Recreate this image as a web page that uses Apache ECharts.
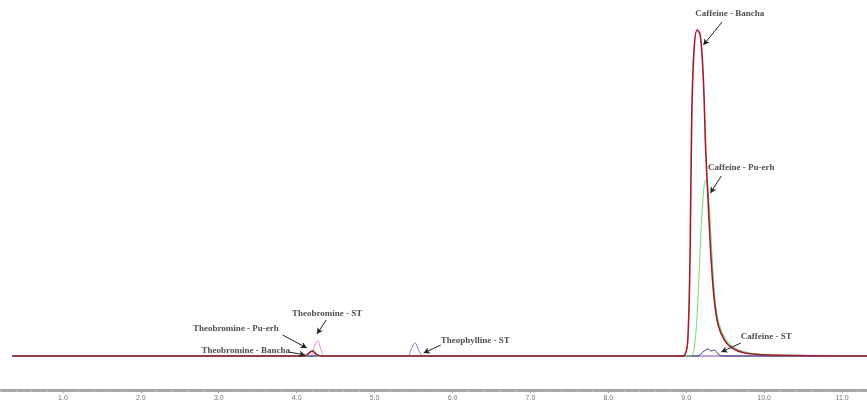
<!DOCTYPE html>
<html>
<head>
<meta charset="utf-8">
<script src="https://cdn.jsdelivr.net/npm/echarts@6/dist/echarts.min.js"></script>
<style>
  html, body { margin: 0; padding: 0; background: #fff; }
  #chart { width: 867px; height: 406px; }
</style>
</head>
<body>
<div id="chart"></div>
<script>
// retention time (min) / detector response
const banchaRt = [0.35, 4.10, 4.16, 4.20, 4.25, 4.32, 8.92, 8.98, 9.02, 9.05, 9.07, 9.10, 9.14, 9.18, 9.22, 9.25, 9.28, 9.32, 9.36, 9.41, 9.49, 9.59, 9.75, 10.08, 11.32]
const banchaY = [0, 0, 3, 5, 2, 0, 0, 1, 16, 106, 236, 306, 326, 321, 276, 206, 156, 96, 56, 31, 16, 8, 3, 1, 0]

const puerhRt = [0.35, 4.12, 4.18, 4.22, 4.28, 9.05, 9.10, 9.15, 9.19, 9.23, 9.25, 9.29, 9.32, 9.36, 9.41, 9.50, 9.63, 9.82, 10.14, 11.32]
const puerhY = [0, 0, 4, 6, 0, 0, 6, 56, 126, 171, 176, 156, 116, 66, 36, 18, 8, 3, 1, 0]

const stTheobromineRt = [0.35, 4.17, 4.22, 4.27, 4.31, 4.36, 11.32]
const stTheobromineY = [0, 0, 9, 15, 7, 0, 0]

const stTheophyllineRt = [0.35, 5.42, 5.47, 5.52, 5.57, 5.63, 11.32]
const stTheophyllineY = [0, 0, 7, 13, 5, 0, 0]

const stCaffeineRt = [0.35, 9.14, 9.23, 9.28, 9.32, 9.36, 9.41, 9.46, 11.32]
const stCaffeineY = [0, 0, 5, 7, 5, 6, 2, 0, 0]

const tickValues = [1, 2, 3, 4, 5, 6, 7, 8, 9, 10, 11]
const tickLabels = ['1.0', '2.0', '3.0', '4.0', '5.0', '6.0', '7.0', '8.0', '9.0', '10.0', '11.0']

// peak annotations: text, text anchor, arrow start, arrow tip (data units)
const annText = ['Caffeine - Bancha', 'Caffeine - Pu-erh', 'Caffeine - ST', 'Theobromine - ST', 'Theobromine - Pu-erh', 'Theobromine - Bancha', 'Theophylline - ST']
const annAt = [[9.56, 342], [9.28, 188], [9.70, 19], [3.94, 42], [2.67, 27], [2.78, 5], [5.85, 15]]
const annAlign = ['center', 'left', 'left', 'left', 'left', 'left', 'left']
const arrowFrom = [[9.46, 334], [9.45, 180], [9.70, 13], [4.38, 36], [3.82, 21], [3.90, 4], [5.85, 11]]
const arrowTo = [[9.22, 311], [9.31, 163], [9.45, 4], [4.26, 22], [4.13, 8], [4.11, 1], [5.63, 3]]

const zip = (xs, ys) => xs.map((x, i) => [x, ys[i]])

const trace = (name, xs, ys, color, width, z) => ({
  name,
  type: 'line',
  data: zip(xs, ys),
  smooth: 0.35,
  showSymbol: false,
  z,
  lineStyle: { color, width },
  itemStyle: { color }
})

const chart = echarts.init(document.getElementById('chart'))

chart.setOption({
  animation: false,
  backgroundColor: '#fff',
  grid: { left: -15, right: 0, top: 0, bottom: 16, outerBoundsMode: 'none', containLabel: false },
  xAxis: {
    type: 'value',
    min: 0,
    max: 11.32,
    interval: 1,
    splitLine: { show: false },
    axisLine: { onZero: false, lineStyle: { color: '#a8a8a8', width: 3 } },
    axisTick: { length: 3, lineStyle: { color: '#999' } },
    minorTick: { show: true, splitNumber: 5, length: 2, lineStyle: { color: '#bbb' } },
    axisLabel: {
      color: '#777',
      fontSize: 7,
      margin: 5,
      fontFamily: 'Liberation Sans',
      showMaxLabel: false,
      formatter: v => {
        const i = tickValues.indexOf(v)
        return i >= 0 ? tickLabels[i] : ''
      }
    }
  },
  yAxis: { type: 'value', min: -34, max: 356, show: false },
  series: [
    trace('ST', stTheobromineRt, stTheobromineY, '#e68ad8', 1, 2),
    trace('ST theophylline', stTheophyllineRt, stTheophyllineY, '#8080d8', 1, 2),
    trace('ST caffeine', stCaffeineRt, stCaffeineY, '#3a3a6a', 1, 3),
    trace('Pu-erh', puerhRt, puerhY, '#74dc74', 1, 3),
    Object.assign(trace('Bancha', banchaRt, banchaY, '#9e1c2c', 1.6, 4), {
      markLine: {
        silent: true,
        symbol: ['none', 'arrow'],
        symbolSize: [5, 6],
        label: { show: false },
        lineStyle: { color: '#222', width: 1, type: 'solid' },
        data: arrowFrom.map((p, i) => [{ coord: p }, { coord: arrowTo[i] }])
      }
    }),
    {
      name: 'labels',
      type: 'scatter',
      symbolSize: 0,
      clip: false,
      z: 6,
      data: annText.map((t, i) => ({
        value: annAt[i],
        label: {
          show: true,
          position: 'inside',
          align: annAlign[i],
          verticalAlign: 'middle',
          formatter: t,
          color: '#222',
          fontSize: 9,
          fontWeight: 'bold',
          fontFamily: 'Liberation Serif'
        }
      }))
    }
  ]
})
</script>
</body>
</html>
